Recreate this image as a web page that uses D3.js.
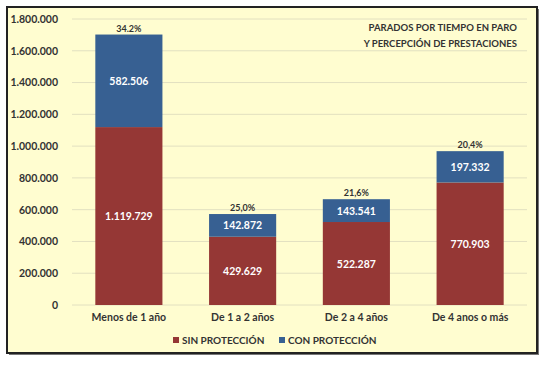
<!DOCTYPE html>
<html><head><meta charset="utf-8">
<script src="https://cdn.jsdelivr.net/npm/d3@7"></script>
<style>
body{margin:0;background:#fff;}
svg{display:block;font-family:Lato,"Open Sans",sans-serif;}
</style></head>
<body><svg id="c" width="550" height="366"></svg>
<script>
const categories = ["Menos de 1 año","De 1 a 2 años","De 2 a 4 años","De 4 anos o más"];
const sinProteccion = [1119729, 429629, 522287, 770903];
const conProteccion = [582506, 142872, 143541, 197332];
const pctLabels = ["34.2%","25,0%","21,6%","20,4%"];
const yTicks = [0,200000,400000,600000,800000,1000000,1200000,1400000,1600000,1800000];
const seriesNames = ["SIN PROTECCIÓN","CON PROTECCIÓN"];
const colors = ["#953735","#376092"];
const titleLines = ["PARADOS POR TIEMPO EN PARO","Y PERCEPCIÓN DE PRESTACIONES"];

const svg = d3.select("#c");
const fmt = v => d3.format(",")(v).replace(/,/g,".");

// frame with shadow
svg.append("rect").attr("x",9).attr("y",9).attr("width",530).attr("height",346).attr("fill","#777");
svg.append("rect").attr("x",7).attr("y",7).attr("width",530).attr("height",346)
  .attr("fill","#FFFDD0").attr("stroke","#222").attr("stroke-width",2);

const x = d3.scaleBand().domain(categories).range([72,527]).paddingInner(0.41).paddingOuter(0.205);
const y = d3.scaleLinear().domain([0,1800000]).range([305,19]);

// grid
svg.append("g").selectAll("line").data(yTicks).join("line")
  .attr("x1",72).attr("x2",527).attr("y1",d=>y(d)).attr("y2",d=>y(d))
  .attr("stroke","#E2E0C0").attr("stroke-width",1);

// y axis
const ya = svg.append("g").attr("transform","translate(60,0)")
  .call(d3.axisLeft(y).tickValues(yTicks).tickFormat(fmt).tickSize(0).tickPadding(2));
ya.select(".domain").remove();
ya.selectAll("text").attr("font-size","10.5px").attr("font-weight","bold").attr("fill","#333").attr("font-family","Lato,sans-serif");

// stacks
const data = categories.map((c,i)=>({cat:c, sin:sinProteccion[i], con:conProteccion[i], pct:pctLabels[i]}));
const stack = d3.stack().keys(["sin","con"])(data);
const g = svg.append("g");
stack.forEach((s,si)=>{
  g.selectAll(null).data(s).join("rect")
    .attr("x",d=>x(d.data.cat)).attr("width",x.bandwidth())
    .attr("y",d=>y(d[1])).attr("height",d=>y(d[0])-y(d[1]))
    .attr("fill",colors[si]);
  g.selectAll(null).data(s).join("text")
    .attr("x",d=>x(d.data.cat)+x.bandwidth()/2)
    .attr("y",d=>(y(d[0])+y(d[1]))/2+4)
    .attr("text-anchor","middle").attr("fill","#fff").attr("font-size","10.5px").attr("font-weight","bold")
    .text(d=>fmt(d[1]-d[0]));
});
// pct labels
g.selectAll(null).data(data).join("text")
  .attr("x",d=>x(d.cat)+x.bandwidth()/2).attr("y",d=>y(d.sin+d.con)-3)
  .attr("text-anchor","middle").attr("fill","#333").attr("font-size","9px").attr("font-weight","bold")
  .text(d=>d.pct);

// x axis
const xa = svg.append("g").attr("transform","translate(0,305)")
  .call(d3.axisBottom(x).tickSize(0).tickPadding(9));
xa.select(".domain").remove();
xa.selectAll("text").attr("font-size","10.5px").attr("font-weight","bold").attr("fill","#333").attr("font-family","Lato,sans-serif");

// legend
const legX = [173,279];
seriesNames.forEach((n,i)=>{
  svg.append("rect").attr("x",legX[i]).attr("y",337).attr("width",6).attr("height",6).attr("fill",colors[i]);
  svg.append("text").attr("x",legX[i]+9).attr("y",343.5).attr("font-size","10px").attr("font-weight","bold")
    .attr("fill","#333").text(n);
});

// title
titleLines.forEach((t,i)=>{
  svg.append("text").attr("x",517).attr("y",31+i*16).attr("text-anchor","end")
    .attr("font-size","9.5px").attr("font-weight","bold").attr("fill","#333").text(t);
});
</script></body></html>
